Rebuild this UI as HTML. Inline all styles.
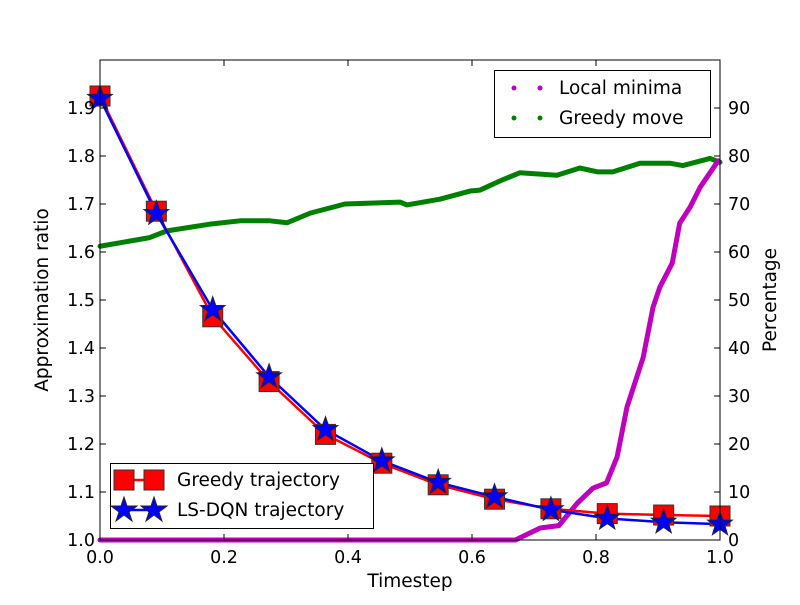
<!DOCTYPE html>
<html><head><meta charset="utf-8"><style>
body{margin:0;background:#fff}
svg text{font-family:"DejaVu Sans","Liberation Sans",sans-serif;fill:#000}
</style></head><body>
<svg id="chart" width="800" height="600" xmlns="http://www.w3.org/2000/svg">
<rect width="800" height="600" fill="#fff"/>
<g id="marks"></g>
<g id="axes"></g>
</svg>
<script>
const trajX = [0,1/11,2/11,3/11,4/11,5/11,6/11,7/11,8/11,9/11,10/11,1];
const greedyTraj = [1.925,1.685,1.465,1.33,1.22,1.16,1.115,1.085,1.065,1.055,1.052,1.05];
const dqnTraj = [1.92,1.68,1.48,1.34,1.23,1.165,1.12,1.09,1.063,1.045,1.037,1.033];
const localMinX = [0,0.67,0.71,0.74,0.77,0.795,0.817,0.834,0.85,0.876,0.892,0.903,0.923,0.935,0.952,0.968,0.997];
const localMinY = [0,0,2.5,3,7.7,10.8,11.9,17.3,27.7,38,48.5,52.7,57.7,66,69.4,73.5,79];
const greedyMoveX = [0,0.08,0.108,0.177,0.226,0.274,0.302,0.339,0.395,0.484,0.495,0.548,0.597,0.613,0.645,0.677,0.737,0.774,0.802,0.827,0.871,0.919,0.94,0.984,1];
const greedyMoveY = [61.2,63,64.4,65.8,66.5,66.5,66.1,68.1,70,70.4,69.8,71,72.7,72.9,74.8,76.5,76,77.5,76.7,76.7,78.5,78.5,78,79.5,78.7];
const xTicks = [0,0.2,0.4,0.6,0.8,1.0];
const xTickLabels = ["0.0","0.2","0.4","0.6","0.8","1.0"];
const yTicks = [1.0,1.1,1.2,1.3,1.4,1.5,1.6,1.7,1.8,1.9];
const yTickLabels = ["1.0","1.1","1.2","1.3","1.4","1.5","1.6","1.7","1.8","1.9"];
const y2Ticks = [0,10,20,30,40,50,60,70,80,90];
const y2TickLabels = ["0","10","20","30","40","50","60","70","80","90"];

const L=100,R=720,T=60,B=540;
const sx=v=>L+v*(R-L);
const sy=v=>B-(v-1)*(B-T);
const sy2=v=>B-v/100*(B-T);
const NS="http://www.w3.org/2000/svg";
const marks=document.getElementById('marks'), axes=document.getElementById('axes');
function mk(tag,attrs,parent){const e=document.createElementNS(NS,tag);for(const k in attrs)e.setAttribute(k,attrs[k]);parent.appendChild(e);return e;}
function starPts(cx,cy,r){let p=[];for(let i=0;i<10;i++){const rr=i%2?r*0.4:r;const a=-Math.PI/2+i*Math.PI/5;p.push((cx+rr*Math.cos(a)).toFixed(1)+','+(cy+rr*Math.sin(a)).toFixed(1));}return p.join(' ');}

let e;
e=mk('polyline',{points:greedyMoveX.map((x,i)=>sx(x)+','+sy2(greedyMoveY[i])).join(' '),fill:'none',stroke:'#008000','stroke-width':5,'stroke-linejoin':'round','stroke-linecap':'round'},marks);


e=mk('polyline',{points:localMinX.map((x,i)=>sx(x)+','+sy2(localMinY[i])).join(' '),fill:'none',stroke:'#bf00bf','stroke-width':5,'stroke-linejoin':'round','stroke-linecap':'round'},marks);


e=mk('polyline',{points:trajX.map((x,i)=>sx(x)+','+sy(greedyTraj[i])).join(' '),fill:'none',stroke:'#f00','stroke-width':2.5},marks);


e=mk('polyline',{points:trajX.map((x,i)=>sx(x)+','+sy(dqnTraj[i])).join(' '),fill:'none',stroke:'#00f','stroke-width':2.5},marks);


trajX.forEach((x,i)=>{
  const s=mk('rect',{x:sx(x)-10,y:sy(greedyTraj[i])-10,width:20,height:20,fill:'#f00',stroke:'#333','stroke-width':1},marks);
  
  
});
trajX.forEach((x,i)=>{
  const s=mk('polygon',{points:starPts(sx(x),sy(dqnTraj[i]),13),fill:'#00f',stroke:'#223','stroke-width':1},marks);
  
  
});

e=mk('rect',{x:L,y:T,width:R-L,height:B-T,fill:'none',stroke:'#000','stroke-width':1},axes);


xTicks.forEach((v,i)=>{
  mk('line',{x1:sx(v),x2:sx(v),y1:B,y2:B-6,stroke:'#000'},axes);
  mk('line',{x1:sx(v),x2:sx(v),y1:T,y2:T+6,stroke:'#000'},axes);
  const t=mk('text',{x:sx(v),y:B+23,'text-anchor':'middle','font-size':17.5},axes);t.textContent=xTickLabels[i];
  
  
});
yTicks.forEach((v,i)=>{
  mk('line',{x1:L,x2:L+6,y1:sy(v),y2:sy(v),stroke:'#000'},axes);
  const t=mk('text',{x:L-5,y:sy(v)+6,'text-anchor':'end','font-size':17.5},axes);t.textContent=yTickLabels[i];
  
  
});
y2Ticks.forEach((v,i)=>{
  mk('line',{x1:R,x2:R-6,y1:sy2(v),y2:sy2(v),stroke:'#000'},axes);
  const t=mk('text',{x:R+8,y:sy2(v)+6,'text-anchor':'start','font-size':17.5},axes);t.textContent=y2TickLabels[i];
  
  
});
</script>
<svg width="800" height="600" style="position:absolute;left:0;top:0" xmlns="http://www.w3.org/2000/svg">
<text x="410" y="587" text-anchor="middle" font-size="18.5">Timestep</text>
<text transform="translate(48,300) rotate(-90)" text-anchor="middle" font-size="18.5">Approximation ratio</text>
<text transform="translate(776,300) rotate(-90)" text-anchor="middle" font-size="18.5">Percentage</text>
<g>
<rect x="494.5" y="70.5" width="216" height="67" fill="#fff" stroke="#000"/>
<g>
<circle cx="514" cy="88" r="2.5" fill="#bf00bf"/><circle cx="540" cy="88" r="2.5" fill="#bf00bf"/>
<text x="559" y="94" font-size="18.5">Local minima</text></g>
<g>
<circle cx="514" cy="118" r="2.5" fill="#008000"/><circle cx="540" cy="118" r="2.5" fill="#008000"/>
<text x="559" y="124" font-size="18.5">Greedy move</text></g>
</g>
<g>
<rect x="110.5" y="463.5" width="263" height="65" fill="#fff" stroke="#000"/>
<g>
<line x1="124" x2="154" y1="480" y2="480" stroke="#f00" stroke-width="2.5"/>
<rect x="114" y="470" width="20" height="20" fill="#f00" stroke="#333"/><rect x="144" y="470" width="20" height="20" fill="#f00" stroke="#333"/>
<text x="177" y="486" font-size="18.5">Greedy trajectory</text></g>
<g>
<line x1="124" x2="154" y1="510" y2="510" stroke="#00f" stroke-width="2.5"/>
<polygon points="124,497 127,506 137,506 129,512 132,521 124,515 116,521 119,512 111,506 121,506" fill="#00f" stroke="#223"/>
<polygon points="154,497 157,506 167,506 159,512 162,521 154,515 146,521 149,512 141,506 151,506" fill="#00f" stroke="#223"/>
<text x="177" y="516" font-size="18.5">LS-DQN trajectory</text></g>
</g>
</svg>
</body></html>
